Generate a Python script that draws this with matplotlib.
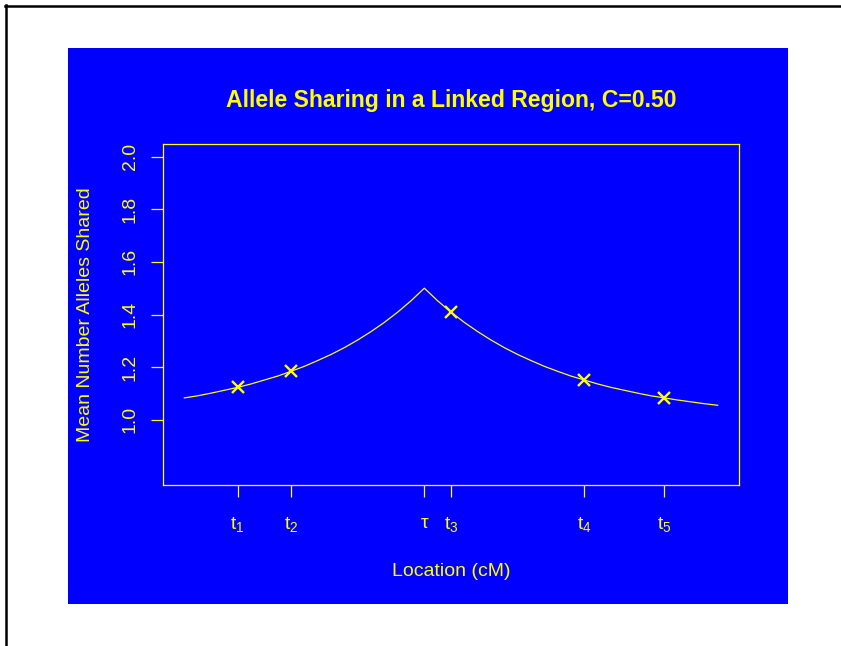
import matplotlib
matplotlib.use("Agg")
import matplotlib.pyplot as plt
from matplotlib.patches import Rectangle
from matplotlib.lines import Line2D

plt.rcParams['font.family'] = ['Liberation Sans', 'DejaVu Sans']
plt.rcParams['mathtext.fontset'] = 'custom'
plt.rcParams['mathtext.rm'] = 'Liberation Sans'
plt.rcParams['mathtext.it'] = 'Liberation Sans'

# mean sharing curve (location in cM)
curve_x = [0, 2.5, 5, 7.5, 10, 12.5, 15, 17.5, 20, 22.5, 25, 27.5, 30, 32.5,
           35, 37.5, 40, 42.5, 45, 47.5, 50, 52.5, 55, 57.5, 60, 62.5, 65,
           67.5, 70, 72.5, 75, 77.5, 80, 82.5, 85, 87.5, 90, 92.5, 95, 97.5, 100]
curve_y = [1.083, 1.091, 1.101, 1.112, 1.123, 1.136, 1.151, 1.166, 1.184,
           1.203, 1.225, 1.248, 1.274, 1.303, 1.335, 1.370, 1.409, 1.452,
           1.500, 1.452, 1.409, 1.370, 1.335, 1.303, 1.274, 1.248, 1.225,
           1.203, 1.184, 1.166, 1.151, 1.136, 1.123, 1.112, 1.101, 1.091,
           1.083, 1.075, 1.068, 1.061, 1.055]

# marker locations
marker_x = [10, 20, 50, 75, 90]
marker_y = [1.123, 1.184, 1.409, 1.151, 1.083]

xtick_pos = [10, 20, 45, 50, 75, 90]
xtick_lab = [r'$\mathregular{t_1}$', r'$\mathregular{t_2}$', 'τ',
             r'$\mathregular{t_3}$', r'$\mathregular{t_4}$', r'$\mathregular{t_5}$']
ytick_pos = [1.0, 1.2, 1.4, 1.6, 1.8, 2.0]

fg = 'yellow'
bg = '#0000ff'

fig = plt.figure(figsize=(8.41, 6.46), dpi=100)
fig.patch.set_facecolor('white')
fig.add_artist(Rectangle((68/841, 1-604/646), 720/841, 556/646,
                         transform=fig.transFigure, facecolor=bg,
                         edgecolor='none', zorder=0))
# outer frame (left and top edges)
fig.add_artist(Line2D([5.5/841, 5.5/841], [0, 1-5/646], transform=fig.transFigure,
                      color='black', lw=1.8))
fig.add_artist(Line2D([5/841, 1], [1-5.5/646, 1-5.5/646], transform=fig.transFigure,
                      color='black', lw=1.8))

ax = fig.add_axes([163/841, 1-485/646, 576/841, 341/646])
ax.set_facecolor('none')
ax.plot(curve_x, curve_y, color=fg, lw=0.9)
ax.plot(marker_x, marker_y, linestyle='none', marker='x', color=fg,
        markersize=8, mew=1.7)

ax.set_xlim(-4, 104)
ax.set_ylim(0.752, 2.048)
ax.set_xticks(xtick_pos)
ax.set_xticklabels(xtick_lab)
ax.set_yticks(ytick_pos)
ax.set_yticklabels(['%.1f' % v for v in ytick_pos], rotation=90, va='center')

for s in ax.spines.values():
    s.set_color(fg)
    s.set_linewidth(0.9)
ax.tick_params(colors=fg, length=8.6, width=0.9, labelsize=14)
ax.tick_params(axis='x', pad=13)
ax.tick_params(axis='y', pad=9)

ax.set_title('Allele Sharing in a Linked Region, C=0.50', color=fg,
             fontsize=16.6, fontweight='bold', pad=27)
ax.set_xlabel('Location (cM)', color=fg, fontsize=14, labelpad=21)
ax.set_ylabel('Mean Number Alleles Shared', color=fg, fontsize=14, labelpad=20)

fig.savefig('out.png', dpi=100, facecolor=fig.get_facecolor())
